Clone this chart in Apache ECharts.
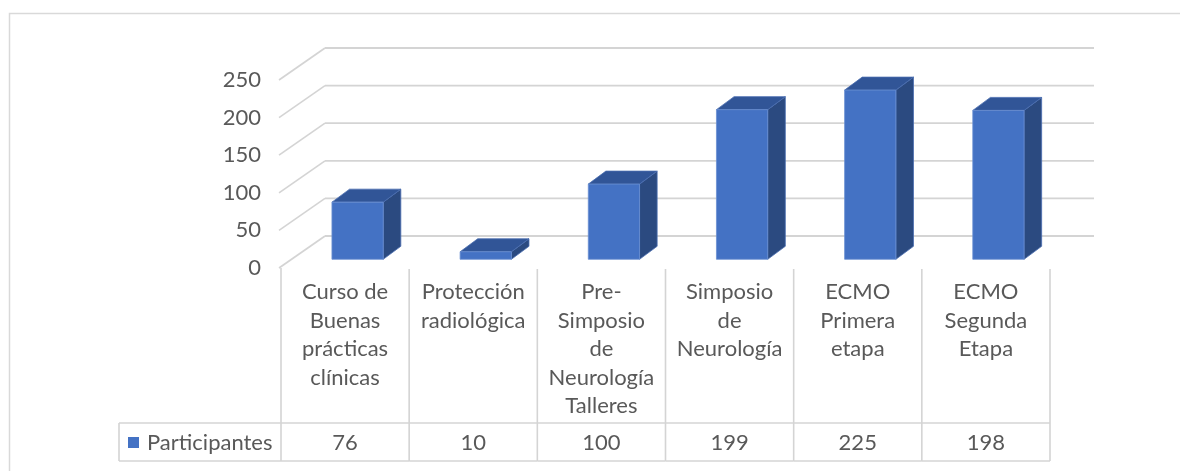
<!DOCTYPE html>
<html>
<head>
<meta charset="utf-8">
<script src="https://cdn.jsdelivr.net/npm/echarts@6/dist/echarts.min.js"></script>
<style>
  html, body { margin: 0; padding: 0; background: #ffffff; }
  #chart { width: 1180px; height: 471px; }
</style>
</head>
<body>
<div id="chart"></div>
<script>
// ---- data ----
const categories = [
  'Curso de\nBuenas\nprácticas\nclínicas',
  'Protección\nradiológica',
  'Pre-\nSimposio\nde\nNeurología\nTalleres',
  'Simposio\nde\nNeurología',
  'ECMO\nPrimera\netapa',
  'ECMO\nSegunda\nEtapa'
];
const participantes = [76, 10, 100, 199, 225, 198];
const yTicks = [0, 50, 100, 150, 200, 250];
const seriesName = 'Participantes';

// ---- style ----
const FONT = 'Lato, "Open Sans", sans-serif';
const FS = 22;
const TEXT = '#595959';
const GRID = '#d4d4d4';
const WALL_DX = 44, WALL_DY = -32;     // back wall offset
const BAR_OX = 12.5, BAR_OY = -8.7;    // bar plane offset
const BAR_DX = 17.6, BAR_DY = -13;     // bar depth

const chart = echarts.init(document.getElementById('chart'), null, { renderer: 'canvas' });

function wallItem(params, api) {
  const cs = params.coordSys;
  const y = api.coord([0, api.value(1)])[1];
  const x0 = cs.x - 2;
  return {
    type: 'group',
    children: [
      { type: 'line', shape: { x1: x0, y1: y, x2: cs.x + WALL_DX, y2: y + WALL_DY },
        style: { stroke: GRID, lineWidth: 1.6 } },
      { type: 'line', shape: { x1: cs.x + WALL_DX, y1: y + WALL_DY, x2: cs.x + cs.width + WALL_DX, y2: y + WALL_DY },
        style: { stroke: GRID, lineWidth: 1.8 } }
    ]
  };
}

function barItem(params, api) {
  const i = api.value(0);
  const base = api.coord([i, 0]);
  const top = api.coord([i, api.value(1)]);
  const w = api.size([1, 0])[0] * 0.4;
  const xl = base[0] + BAR_OX - w / 2, xr = xl + w;
  const yb = base[1] + BAR_OY, yt = top[1] + BAR_OY;
  return {
    type: 'group',
    children: [
      { type: 'polygon', shape: { points: [[xr, yt], [xr + BAR_DX, yt + BAR_DY], [xr + BAR_DX, yb + BAR_DY], [xr, yb]] },
        style: { fill: '#2b4a80', stroke: '#4a6db0', lineWidth: 0.8 } },
      { type: 'polygon', shape: { points: [[xl, yt], [xl + BAR_DX, yt + BAR_DY], [xr + BAR_DX, yt + BAR_DY], [xr, yt]] },
        style: { fill: '#315597', stroke: '#4a6db0', lineWidth: 0.8 } },
      { type: 'rect', shape: { x: xl, y: yt, width: w, height: yb - yt },
        style: { fill: '#4472c4', stroke: '#6a8fd2', lineWidth: 0.8 } }
    ]
  };
}

function tableItem(params, api) {
  const cs = params.coordSys;
  const i = api.value(0);
  const cw = api.size([1, 0])[0];
  const cx = api.coord([i, 0])[0];
  const xl = cx - cw / 2, xr = cx + cw / 2;
  const yAxis0 = cs.y + cs.height;
  const yHead = yAxis0 + 1;
  const yRow = yAxis0 + 155;
  const yBot = yAxis0 + 193;
  const line = (x1, y1, x2, y2) => ({ type: 'line', shape: { x1, y1, x2, y2 }, style: { stroke: GRID, lineWidth: 1.6 } });
  const children = [
    line(xr, yHead, xr, yBot),
    line(xl, yRow, xr, yRow),
    line(xl, yBot, xr, yBot),
    { type: 'text', style: { x: cx, y: yHead + 9, text: categories[i], align: 'center', verticalAlign: 'top',
        fontSize: FS, lineHeight: 28.5, fontFamily: FONT, fill: TEXT } },
    { type: 'text', style: { x: cx, y: (yRow + yBot) / 2 + 1, text: String(api.value(1)), align: 'center', verticalAlign: 'middle',
        fontSize: FS, fontFamily: FONT, fill: TEXT } }
  ];
  if (i === 0) {
    const lx = 119;
    children.push(line(xl, yAxis0, xl, yBot));
    children.push(line(lx, yRow, xl, yRow));
    children.push(line(lx, yBot, xl, yBot));
    children.push(line(lx, yRow, lx, yBot));
    children.push({ type: 'rect', shape: { x: lx + 9, y: (yRow + yBot) / 2 - 5, width: 11, height: 11 },
      style: { fill: '#4472c4' } });
    children.push({ type: 'text', style: { x: lx + 28, y: (yRow + yBot) / 2 + 1, text: seriesName, align: 'left', verticalAlign: 'middle',
      fontSize: FS, fontFamily: FONT, fill: TEXT } });
  }
  return { type: 'group', children };
}

chart.setOption({
  animation: false,
  backgroundColor: '#ffffff',
  graphic: [
    { type: 'rect', left: 7, top: 11, shape: { width: 1200, height: 500 },
      style: { fill: 'none', stroke: '#d9d9d9', lineWidth: 1.5 }, silent: true, z: -10 }
  ],
  grid: { left: 281, right: 130, top: 80, bottom: 203 },
  xAxis: {
    type: 'category',
    data: categories,
    axisLine: { show: false }, axisTick: { show: false }, axisLabel: { show: false }, splitLine: { show: false }
  },
  yAxis: {
    type: 'value', min: 0, max: 250, interval: 50,
    axisLine: { show: false }, axisTick: { show: false }, splitLine: { show: false },
    axisLabel: { color: TEXT, fontSize: FS, fontFamily: FONT, margin: 20 }
  },
  series: [
    { type: 'custom', name: 'wall', renderItem: wallItem, clip: false, silent: true, z: 1,
      encode: { x: 0, y: 1 }, data: yTicks.map(v => [0, v]) },
    { type: 'custom', name: seriesName, renderItem: barItem, clip: false, z: 3,
      encode: { x: 0, y: 1 }, data: participantes.map((v, i) => [i, v]) },
    { type: 'custom', name: 'table', renderItem: tableItem, clip: false, silent: true, z: 2,
      encode: { x: 0, y: 1 }, data: participantes.map((v, i) => [i, v]) }
  ]
});
</script>
</body>
</html>
